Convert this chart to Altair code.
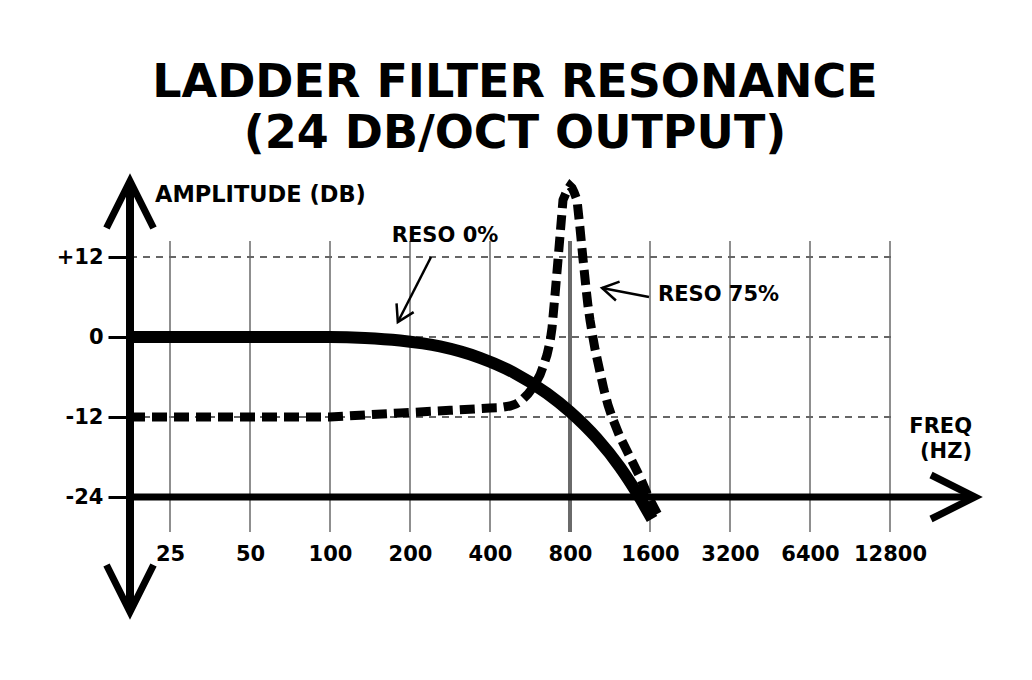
import altair as alt
import pandas as pd

FONT = "DejaVu Sans"

# ---------------- data ----------------
grid_freqs = [25, 50, 100, 200, 400, 800, 1600, 3200, 6400, 12800]
level_ticks = [12, 0, -12, -24]
dashed_levels = [12, 0, -12]

# RESO 0% (solid)
reso0_freq = [17.68, 25, 50, 100, 135.4, 183.4, 259.4, 366.8, 488.2, 655.5,
              800, 1010.8, 1234, 1442, 1628]
reso0_db = [0, 0, 0, 0, -0.14, -0.53, -1.41, -3.12, -5.28, -8.45, -11.2,
            -15.21, -19.53, -23.66, -27.29]

# RESO 75% (dotted)
reso75_freq = [17.68, 25, 50, 100, 135.5, 183.4, 282.8, 400, 436.2, 475.7,
               501.1, 527.8, 555.8, 585.6, 616.9, 638.6, 655.4, 672.7, 684.6,
               702.5, 721.0, 752.9, 772.7, 786.2, 800, 814.0, 828.2, 850.1,
               872.4, 895.4, 919.0, 935.0, 951.4, 968.0, 993.4, 1037.4, 1074.0,
               1111.9, 1151.2, 1233.8, 1345.4, 1467.2, 1572.5, 1714.8]
reso75_db = [-12, -12, -12, -12, -11.7, -11.4, -11.0, -10.65, -10.6, -10.35,
             -10.05, -9.45, -8.55, -7.35, -5.7, -4.05, -2.7, -0.75, 1.35, 6.3,
             11.55, 20.55, 21.6, 22.2, 22.65, 22.35, 21.75, 20.55, 16.35, 11.7,
             7.35, 4.65, 2.55, 0.75, -1.8, -5.25, -7.95, -10.2, -12.0, -15.0,
             -18.0, -21.0, -23.85, -26.7]

# annotation texts (freq Hz, level dB)
center_notes = ["RESO 0%"]
center_f = [271]
center_db = [15.15]

left_notes = ["RESO 75%"]
left_f = [1715]
left_db = [6.3]

yaxis_title = ["AMPLITUDE (DB)"]
yaxis_title_f = [21.95]
yaxis_title_db = [21.3]

right_notes = ["FREQ", "(HZ)"]
right_f = [26050, 26050]
right_db = [-13.5, -17.25]

# pointer arrows: start -> end
ptr_f1 = [240, 1586]
ptr_db1 = [12.0, 6.0]
ptr_f2 = [180, 1056]
ptr_db2 = [2.25, 7.35]
ptr_angle = [207, 281]

# axis arrows
F0 = 17.678
axis_arrow_f = [F0, F0, 26733]
axis_arrow_db = [23.4, -41.25, -24]
axis_arrow_angle = [0, 180, 90]

# ---------------- scales / axes ----------------
xscale = alt.Scale(type="log", base=2, domain=[F0, 30445], nice=False)
yscale = alt.Scale(domain=[-43.2, 25.05], nice=False, zero=False)

xaxis = alt.Axis(values=grid_freqs, format="d", orient="bottom", offset=-82,
                 domain=False, ticks=False, grid=False, labelFont=FONT,
                 labelFontSize=21, labelFontWeight="bold", labelColor="black",
                 labelPadding=0, labelOverlap=False, labelFlush=False, title="")
yaxis = alt.Axis(values=level_ticks,
                 labelExpr="datum.value > 0 ? '+' + datum.value : '' + datum.value",
                 tickSize=22, tickWidth=3, tickColor="black", domain=False,
                 grid=False, labelFont=FONT, labelFontSize=21,
                 labelFontWeight="bold", labelColor="black", labelPadding=5,
                 title="")


def X(field="f"):
    return alt.X(f"{field}:Q", scale=xscale, axis=xaxis)


def Y(field="db"):
    return alt.Y(f"{field}:Q", scale=yscale, axis=yaxis)


def YD(v):
    return alt.Y(datum=v, scale=yscale, axis=yaxis)


def XD(v):
    return alt.X(datum=v, scale=xscale, axis=xaxis)


grid_df = pd.DataFrame({"f": grid_freqs})
grid = alt.Chart(grid_df).mark_rule(color="#8f8f8f", strokeWidth=2).encode(
    x=X(), y=YD(14.4), y2=alt.Y2(datum=-29.25))
grid800 = alt.Chart(grid_df[grid_df.f == 800]).mark_rule(
    color="#6a6a6a", strokeWidth=4).encode(
    x=X(), y=YD(14.4), y2=alt.Y2(datum=-29.25))

hl_df = pd.DataFrame({"db": dashed_levels})
hlines = alt.Chart(hl_df).mark_rule(color="#666666", strokeWidth=2,
                                    strokeDash=[7, 6]).encode(
    y=Y(), x=XD(F0), x2=alt.X2(datum=13140))

c0 = pd.DataFrame({"f": reso0_freq, "db": reso0_db})
c75 = pd.DataFrame({"f": reso75_freq, "db": reso75_db})
line0 = alt.Chart(c0).mark_line(color="black", strokeWidth=12,
                                interpolate="monotone", strokeCap="butt").encode(
    x=X(), y=Y())
line75 = alt.Chart(c75).mark_line(color="black", strokeWidth=9,
                                  strokeDash=[15, 7], interpolate="linear",
                                  strokeJoin="miter", strokeCap="butt").encode(
    x=X(), y=Y())

# axis lines
yaxis_line = alt.Chart(pd.DataFrame({"f": [F0]})).mark_rule(
    color="black", strokeWidth=8).encode(
    x=X(), y=YD(axis_arrow_db[0]), y2=alt.Y2(datum=axis_arrow_db[1]))
xaxis_line = alt.Chart(pd.DataFrame({"db": [-24]})).mark_rule(
    color="black", strokeWidth=7).encode(
    y=Y(), x=XD(F0), x2=alt.X2(datum=axis_arrow_f[2]))

arrows_df = pd.DataFrame({"f": axis_arrow_f, "db": axis_arrow_db,
                          "a": axis_arrow_angle, "s": [8836, 8836, 7744]})
axis_arrows = alt.Chart(arrows_df).mark_point(
    shape="M-0.5,1L0,0L0.5,1", filled=False, stroke="black", strokeWidth=7,
    strokeJoin="miter", opacity=1).encode(
    x=X(), y=Y(), angle=alt.Angle("a:Q", scale=None),
    size=alt.Size("s:Q", scale=None))

ptr_df = pd.DataFrame({"f": ptr_f1, "db": ptr_db1, "f2": ptr_f2,
                       "db2": ptr_db2, "a": ptr_angle})
ptr_lines = alt.Chart(ptr_df).mark_rule(color="black", strokeWidth=2.5).encode(
    x=X(), y=Y(), x2="f2:Q", y2="db2:Q")
ptr_heads = alt.Chart(ptr_df).mark_point(
    shape="M-0.6,1L0,0L0.6,1", filled=False, stroke="black", strokeWidth=2.5,
    strokeJoin="miter", opacity=1, size=1024).encode(
    x=X("f2"), y=Y("db2"), angle=alt.Angle("a:Q", scale=None))

txt_style = dict(font=FONT, fontWeight="bold", color="black",
                 baseline="middle")
t_center = alt.Chart(pd.DataFrame({"t": center_notes, "f": center_f,
                                   "db": center_db})).mark_text(
    align="center", fontSize=21, **txt_style).encode(x=X(), y=Y(), text="t:N")
t_left = alt.Chart(pd.DataFrame({"t": left_notes, "f": left_f,
                                 "db": left_db})).mark_text(
    align="left", fontSize=21, **txt_style).encode(x=X(), y=Y(), text="t:N")
t_ytitle = alt.Chart(pd.DataFrame({"t": yaxis_title, "f": yaxis_title_f,
                                   "db": yaxis_title_db})).mark_text(
    align="left", fontSize=22.5, **txt_style).encode(x=X(), y=Y(), text="t:N")
t_right = alt.Chart(pd.DataFrame({"t": right_notes, "f": right_f,
                                  "db": right_db})).mark_text(
    align="right", fontSize=21, **txt_style).encode(x=X(), y=Y(), text="t:N")

chart = alt.layer(
    grid, grid800, hlines, line75, line0, yaxis_line, xaxis_line,
    axis_arrows, ptr_lines, ptr_heads, t_center, t_left, t_ytitle, t_right
).properties(
    width=860, height=455,
    autosize=alt.AutoSizeParams(type="none"),
    padding={"left": 122, "top": 162, "right": 20, "bottom": 30},
    background="white",
    title=alt.TitleParams(
        text=["LADDER FILTER RESONANCE", "(24 DB/OCT OUTPUT)"],
        font=FONT, fontSize=46, fontWeight="bold", color="black",
        anchor="middle", dx=-45, lineHeight=51, offset=-37, baseline="bottom"),
).configure_view(strokeWidth=0)

chart.save("out.html", embed_options={"renderer": "svg", "actions": False})
